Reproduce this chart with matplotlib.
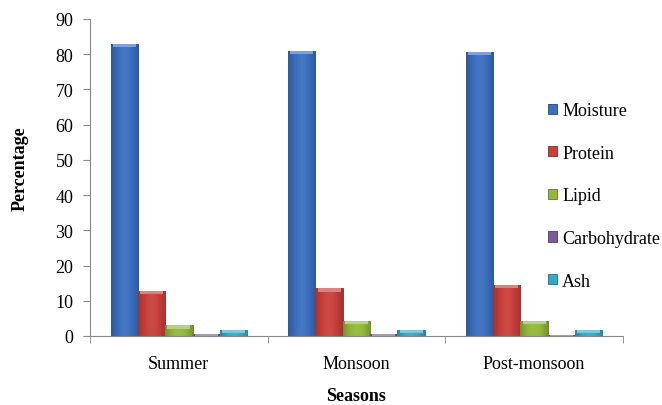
import matplotlib

matplotlib.use("Agg")
import matplotlib.pyplot as plt
import numpy as np
from matplotlib.colors import to_rgb

seasons = ["Summer", "Monsoon", "Post-monsoon"]
components = ["Moisture", "Protein", "Lipid", "Carbohydrate", "Ash"]
moisture = [82.8, 80.8, 80.7]
protein = [12.8, 13.5, 14.4]
lipid = [3.0, 4.2, 4.3]
carbohydrate = [0.5, 0.5, 0.2]
ash = [1.8, 1.8, 1.8]
series = [moisture, protein, lipid, carbohydrate, ash]

colors = ["#3B6FBF", "#C9403D", "#92B83C", "#7A5C9E", "#34A9C7"]

plt.rcParams["font.family"] = ["Liberation Serif", "DejaVu Serif"]
FS = 13

fig = plt.figure(figsize=(6.62, 4.06), dpi=100)
ax = fig.add_axes([0.136, 0.170, 0.805, 0.781])

x = np.arange(len(seasons))
width = 1 / 6.5
offsets = (np.arange(len(components)) - 2) * width


def shade(color, f):
    r, g, b = to_rgb(color)
    if f >= 0:
        return (r + (1 - r) * f, g + (1 - g) * f, b + (1 - b) * f)
    return (r * (1 + f), g * (1 + f), b * (1 + f))


handles = []
for vals, name, col, off in zip(series, components, colors, offsets):
    bars = ax.bar(x + off, vals, width, color=col, edgecolor=shade(col, -0.35),
                  linewidth=0.6, label=name, zorder=2)
    handles.append(bars)
    # horizontal gradient inside each bar, darker at the edges
    t = np.linspace(0, 1, 40)
    prof = 0.25 * np.sin(np.pi * t) - 0.2
    grad = np.array([[shade(col, p) for p in prof]])
    for b in bars:
        x0, y0 = b.get_x(), b.get_y()
        w, h = b.get_width(), b.get_height()
        im = ax.imshow(grad, extent=[x0, x0 + w, y0, y0 + h], aspect="auto",
                       zorder=2.5, interpolation="bilinear")
        im.set_clip_path(b)
        # lighter bevel on top
        top = min(1.0, h)
        ax.fill_between([x0 + w * 0.08, x0 + w * 0.92], y0 + h - top * 0.9, y0 + h,
                        color=shade(col, 0.35), zorder=3, linewidth=0)

ax.set_xlim(-0.5, 2.5)
ax.set_ylim(0, 90)
ax.set_yticks(range(0, 91, 10))
ax.set_xticks(x)
ax.set_xticklabels(seasons)
ax.set_xticks([-0.5, 0.5, 1.5, 2.5], minor=True)
ax.tick_params(axis="x", which="major", length=0, pad=14, labelsize=FS)
ax.tick_params(axis="x", which="minor", length=5, color="#888888")
ax.tick_params(axis="y", length=5, color="#888888", labelsize=FS, pad=7)

for side in ["top", "right"]:
    ax.spines[side].set_visible(False)
for side in ["left", "bottom"]:
    ax.spines[side].set_color("#888888")

ax.set_ylabel("Percentage", fontweight="bold", fontsize=FS)
ax.yaxis.set_label_coords(-0.116, 0.53)
ax.set_xlabel("Seasons", fontweight="bold", fontsize=FS)
ax.xaxis.set_label_coords(0.5, -0.161)

fig.legend(handles, components, loc="upper left", bbox_to_anchor=(0.828, 0.746),
           frameon=False, fontsize=FS, handlelength=0.5, handleheight=0.5,
           handletextpad=0.28, labelspacing=1.42, borderpad=0, borderaxespad=0)

fig.savefig("out.png", dpi=100)
